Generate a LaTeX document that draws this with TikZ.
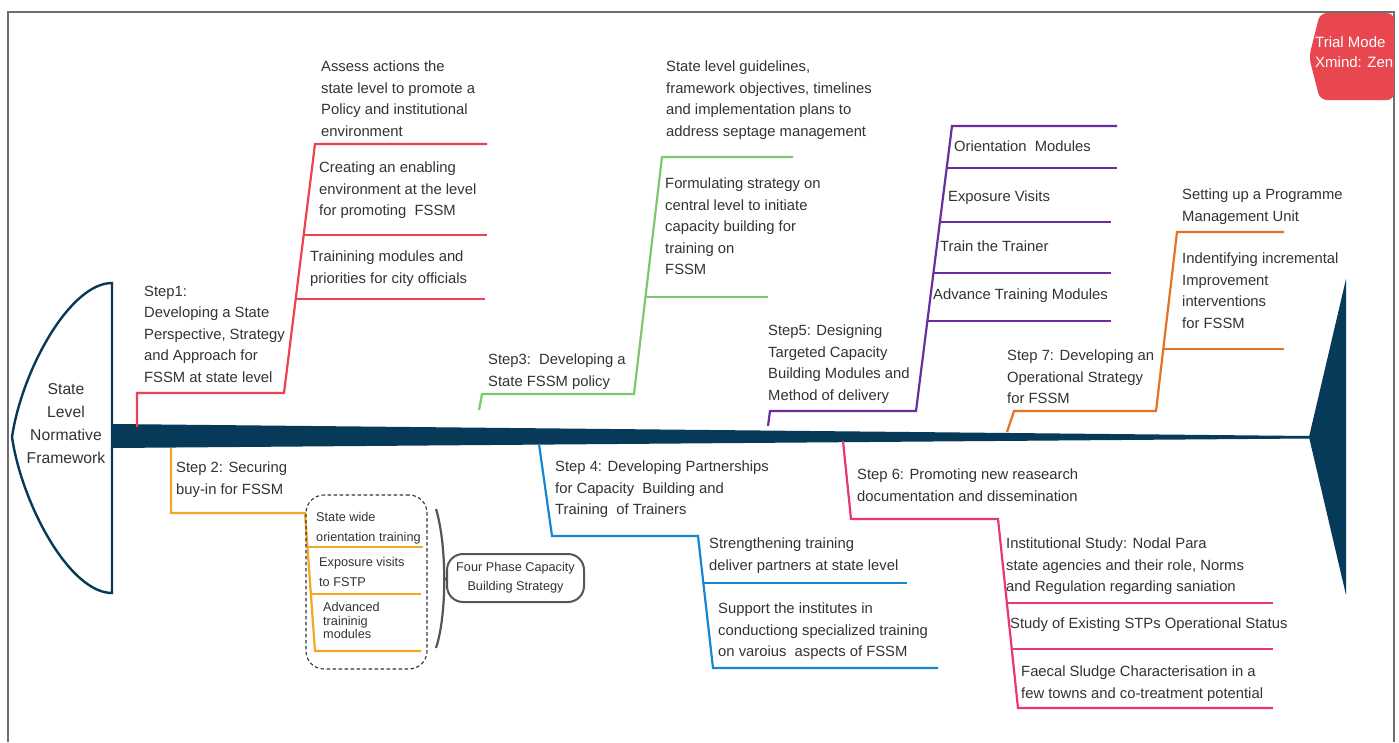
\documentclass[tikz,border=0pt]{standalone}
\usepackage{fontspec}
\setmainfont{Liberation Sans}
\definecolor{txt}{RGB}{51,51,51}
\definecolor{fishblue}{RGB}{6,58,88}
\definecolor{framegray}{RGB}{110,110,110}
\definecolor{badgered}{RGB}{232,71,79}
\definecolor{cred}{RGB}{234,67,79}
\definecolor{cgreen}{RGB}{125,200,110}
\definecolor{cpurple}{RGB}{106,45,160}
\definecolor{corange}{RGB}{228,115,40}
\definecolor{cyellow}{RGB}{245,166,35}
\definecolor{cblue}{RGB}{20,135,210}
\definecolor{cpink}{RGB}{236,54,112}
\definecolor{bracketgray}{RGB}{85,85,85}
\begin{document}
\begin{tikzpicture}[x=1pt,y=-1pt,
  lbl/.style={anchor=north west, inner sep=0pt, align=left, text=txt, font=\fontsize{14.8}{21.6}\selectfont},
  sml/.style={lbl, font=\fontsize{12.7}{19.5}\selectfont},
  br/.style={line width=2.2pt},
  bred/.style={br, draw=cred},
  bgreen/.style={br, draw=cgreen},
  bpurple/.style={br, draw=cpurple},
  borange/.style={br, draw=corange},
  byellow/.style={br, draw=cyellow},
  bblue/.style={br, draw=cblue},
  bpink/.style={br, draw=cpink}]
\useasboundingbox (0,0) rectangle (1399,742);
\fill[white] (0,0) rectangle (1399,742);
% frame
\draw[framegray, line width=1.5pt] (8,742) -- (8,12) -- (1394,12) -- (1394,742);
% badge
\fill[badgered, rounded corners=7pt] (1320,13) -- (1394,13) -- (1394,100) -- (1320,100) -- (1309,57) -- cycle;
\node[anchor=north west, inner sep=0pt, align=left, text=white, font=\fontsize{15}{19.5}\selectfont] (badge) at (1315,36.6) {Trial Mode\\Xmind: Zen};
% fish tail
\filldraw[fill=white, draw=fishblue, line width=2.4pt] (112,283) .. controls (70,283) and (22,370) .. (12,437) .. controls (22,505) and (70,593) .. (112,593) -- cycle;
\node[anchor=north, inner sep=0pt, align=center, text=txt, font=\fontsize{15.7}{23}\selectfont] (root) at (66,383.4) {State\\Level\\Normative\\Framework};
% spine and head
\fill[fishblue] (112,424) -- (1310,436) -- (1310,438.5) -- (112,448) -- cycle;
\fill[fishblue] (1309,437) -- (1346,279) -- (1346,595) -- cycle;

% ---------- Step 1 (red)
\coordinate (r0) at (137,427); \coordinate (r1) at (137,393); \coordinate (r2) at (284,393);
\coordinate (r3) at (315,144); \coordinate (r4) at (487,144);
\coordinate (r5) at (303.7,235); \coordinate (r6) at (487,235);
\coordinate (r7) at (295.7,299); \coordinate (r8) at (485,299);
\draw[bred] (r0) -- (r1) -- (r2) -- (r3) -- (r4);
\draw[bred] (r5) -- (r6);
\draw[bred] (r7) -- (r8);
\node[lbl] (s1) at (144,285.5) {Step1:\\Developing a State\\Perspective, Strategy\\and Approach for\\FSSM at state level};
\node[lbl] (s1a) at (321,60.5) {Assess actions the\\state level to promote a\\Policy and institutional\\environment};
\node[lbl] (s1b) at (319,161.5) {Creating an enabling\\environment at the level\\for promoting\ \ FSSM};
\node[lbl] (s1c) at (310,250.5) {Trainining modules and\\priorities for city officials};

% ---------- Step 3 (green)
\coordinate (g0) at (479,410); \coordinate (g1) at (482,394); \coordinate (g2) at (634,394);
\coordinate (g3) at (662,157); \coordinate (g4) at (793,157);
\coordinate (g5) at (645.5,297); \coordinate (g6) at (768,297);
\draw[bgreen] (g0) -- (g1) -- (g2) -- (g3) -- (g4);
\draw[bgreen] (g5) -- (g6);
\node[lbl] (s3) at (488,353.5) {Step3:\ \ Developing a\\State FSSM policy};
\node[lbl] (s3a) at (666,60.5) {State level guidelines,\\framework objectives, timelines\\and implementation plans to\\address septage management};
\node[lbl] (s3b) at (665,177.5) {Formulating strategy on\\central level to initiate\\capacity building for\\training on\\FSSM};

% ---------- Step 5 (purple)
\coordinate (p0) at (768,426); \coordinate (p1) at (770,411); \coordinate (p2) at (916,411);
\coordinate (p3) at (952,126); \coordinate (p4) at (1117,126);
\coordinate (p5) at (946.7,168); \coordinate (p6) at (1117,168);
\coordinate (p7) at (939.9,222); \coordinate (p8) at (1111,222);
\coordinate (p9) at (933.4,273); \coordinate (p10) at (1111,273);
\coordinate (p11) at (927.4,321); \coordinate (p12) at (1111,321);
\draw[bpurple] (p0) -- (p1) -- (p2) -- (p3) -- (p4);
\draw[bpurple] (p5) -- (p6);
\draw[bpurple] (p7) -- (p8);
\draw[bpurple] (p9) -- (p10);
\draw[bpurple] (p11) -- (p12);
\node[lbl] (s5) at (768,324.5) {Step5: Designing\\Targeted Capacity\\Building Modules and\\Method of delivery};
\node[lbl] (s5a) at (954,140.5) {Orientation\ \ Modules};
\node[lbl] (s5b) at (948,190.5) {Exposure Visits};
\node[lbl] (s5c) at (940,240.5) {Train the Trainer};
\node[lbl] (s5d) at (933,288.5) {Advance Training Modules};

% ---------- Step 7 (orange)
\coordinate (o0) at (1007,432); \coordinate (o1) at (1014,411); \coordinate (o2) at (1156,411);
\coordinate (o3) at (1177,232); \coordinate (o4) at (1284,232);
\coordinate (o5) at (1163.3,349); \coordinate (o6) at (1284,349);
\draw[borange] (o0) -- (o1) -- (o2) -- (o3) -- (o4);
\draw[borange] (o5) -- (o6);
\node[lbl] (s7) at (1007,349.5) {Step 7: Developing an\\Operational Strategy\\for FSSM};
\node[lbl] (s7a) at (1182,188.5) {Setting up a Programme\\Management Unit};
\node[lbl] (s7b) at (1182,252.5) {Indentifying incremental\\Improvement\\interventions\\for FSSM};

% ---------- Step 2 (yellow)
\coordinate (y0) at (171,448); \coordinate (y1) at (171,513); \coordinate (y2) at (305,513);
\coordinate (y3) at (315,651); \coordinate (y4) at (421,651);
\coordinate (y5) at (307.5,547); \coordinate (y6) at (423,547);
\coordinate (y7) at (310.9,594); \coordinate (y8) at (421,594);
\draw[byellow] (y0) -- (y1) -- (y2) -- (y3) -- (y4);
\draw[byellow] (y5) -- (y6);
\draw[byellow] (y7) -- (y8);
\node[lbl] (s2) at (176,461.5) {Step 2: Securing\\buy-in for FSSM};
\node[sml] (s2a) at (316,512.5) {State wide\\orientation training};
\node[sml] (s2b) at (319,557.5) {Exposure visits\\to FSTP};
\node[sml, font=\fontsize{12.7}{13.5}\selectfont] (s2c) at (323,602.5) {Advanced\\traininig\\modules};
\node[draw=txt, dashed, dash pattern=on 3.5pt off 2.5pt, line width=1.1pt, rounded corners=18pt, minimum width=121pt, minimum height=174pt, inner sep=0pt] (grp) at (366.5,582) {};
\node[draw=bracketgray, line width=2pt, rounded corners=16pt, minimum width=137pt, minimum height=48pt, inner sep=0pt, align=center, text=txt, font=\fontsize{12.7}{19}\selectfont] (fp) at (515.5,578) {Four Phase Capacity\\Building Strategy};
\coordinate (bt) at (436,509); \coordinate (bb) at (436,648); \coordinate (bm) at (444,580);
\draw[bracketgray, line width=2.2pt] (bt) .. controls (447,545) and (447,615) .. (bb);
\draw[bracketgray, line width=2.2pt] (bm) -- (fp.west);

% ---------- Step 4 (blue)
\coordinate (b0) at (539,444); \coordinate (b1) at (552,536); \coordinate (b2) at (698,536);
\coordinate (b3) at (713,668); \coordinate (b4) at (938,668);
\coordinate (b5) at (703.3,583); \coordinate (b6) at (907,583);
\draw[bblue] (b0) -- (b1) -- (b2) -- (b3) -- (b4);
\draw[bblue] (b5) -- (b6);
\node[lbl] (s4) at (555,460.5) {Step 4: Developing Partnerships\\for Capacity\ \ Building and\\Training\ \ of Trainers};
\node[lbl] (s4a) at (709,537.5) {Strengthening training\\deliver partners at state level};
\node[lbl] (s4b) at (718,602.5) {Support the institutes in\\conductiong specialized training\\on varoius\ \ aspects of FSSM};

% ---------- Step 6 (pink)
\coordinate (k0) at (843,441); \coordinate (k1) at (851,519); \coordinate (k2) at (998,519);
\coordinate (k3) at (1018,708); \coordinate (k4) at (1273,708);
\coordinate (k5) at (1006.9,603); \coordinate (k6) at (1273,603);
\coordinate (k7) at (1011.8,649); \coordinate (k8) at (1273,649);
\draw[bpink] (k0) -- (k1) -- (k2) -- (k3) -- (k4);
\draw[bpink] (k5) -- (k6);
\draw[bpink] (k7) -- (k8);
\node[lbl] (s6) at (857,468.5) {Step 6: Promoting new reasearch\\documentation and dissemination};
\node[lbl] (s6a) at (1006,537.5) {Institutional Study: Nodal Para\\state agencies and their role, Norms\\and Regulation regarding saniation};
\node[lbl] (s6b) at (1010,617.5) {Study of Existing STPs Operational Status};
\node[lbl] (s6c) at (1021,665.5) {Faecal Sludge Characterisation in a\\few towns and co-treatment potential};
\end{tikzpicture}
\end{document}
